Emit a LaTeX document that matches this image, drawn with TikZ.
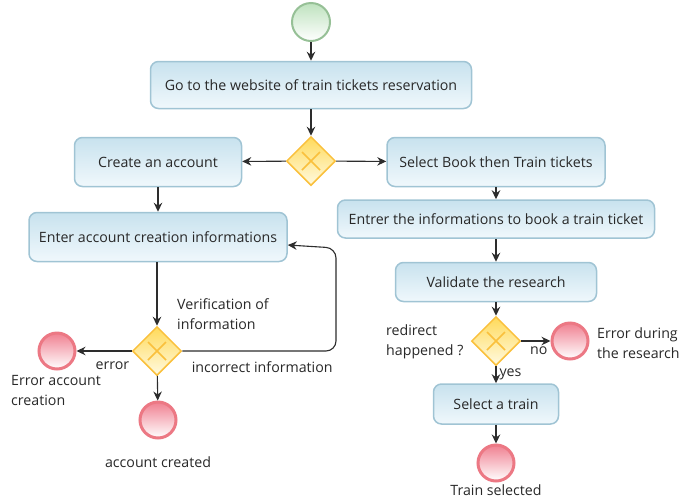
\documentclass[tikz,border=0pt]{standalone}
\usepackage{fontspec}
\setmainfont{Open Sans}
\usepackage{xcolor}
\usetikzlibrary{arrows.meta}
\usetikzlibrary{positioning, shapes.geometric}

\definecolor{taskline}{RGB}{160,196,212}
\definecolor{tasktop}{RGB}{200,226,238}
\definecolor{taskbot}{RGB}{240,248,252}
\definecolor{gateline}{RGB}{250,192,60}
\definecolor{gatetop}{RGB}{255,218,90}
\definecolor{gatebot}{RGB}{255,250,225}
\definecolor{endline}{RGB}{236,120,132}
\definecolor{endtop}{RGB}{240,128,145}
\definecolor{startline}{RGB}{150,192,150}
\definecolor{starttop}{RGB}{190,226,190}
\definecolor{flowline}{RGB}{45,45,45}
\definecolor{labeltext}{RGB}{40,40,40}

\tikzset{
    task/.style={rectangle, rounded corners=8pt, draw=taskline, line width=1.5pt,
        top color=tasktop, bottom color=taskbot, text=labeltext, inner sep=0pt},
    gateway/.style={diamond, aspect=1, minimum width=49pt, minimum height=49pt,
        inner sep=0pt, draw=gateline, line width=1.5pt, top color=gatetop, bottom color=gatebot,
        path picture={
            \draw[gateline, line width=1.5pt]
                ([shift={(-9pt,-9pt)}]path picture bounding box.center) -- ([shift={(9pt,9pt)}]path picture bounding box.center)
                ([shift={(-9pt,9pt)}]path picture bounding box.center) -- ([shift={(9pt,-9pt)}]path picture bounding box.center);
        }},
    startevent/.style={circle, minimum size=38pt, inner sep=0pt, draw=startline, line width=2pt,
        top color=starttop, bottom color=white},
    endevent/.style={circle, minimum size=36pt, inner sep=0pt, draw=endline, line width=3pt,
        top color=endtop, bottom color=white},
    flow/.style={draw=flowline, line width=1.1pt, -{Stealth[length=9pt,width=8.5pt]}},
    lbl/.style={text=labeltext, inner sep=0pt, align=left},
}

\begin{document}
\begin{tikzpicture}[x=1pt, y=-1pt, font=\fontsize{14.2}{20}\selectfont]
    \useasboundingbox (0,0) rectangle (699,499);

    % main column
    \node[startevent] (start) at (311,22) {};
    \node[task, minimum width=321pt, minimum height=47pt] (website) at (311,85)
        {Go to the website of train tickets reservation};
    \node[gateway] (choice) at (311,161) {};

    % account branch
    \node[task, minimum width=167pt, minimum height=49pt] (create) at (158,162) {Create an account};
    \node[task, minimum width=258pt, minimum height=49pt] (enter) at (158,237)
        {Enter account creation informations};
    \node[gateway] (verif) at (157,351) {};
    \node[endevent] (errAccount) at (57,351) {};
    \node[endevent] (created) at (158,420) {};

    % booking branch
    \node[task, minimum width=218pt, minimum height=49pt] (book) at (496,162)
        {Select Book then Train tickets};
    \node[task, minimum width=317pt, minimum height=38pt] (infos) at (496,219)
        {Entrer the informations to book a train ticket};
    \node[task, minimum width=201pt, minimum height=39pt] (validate) at (496,282)
        {Validate the research};
    \node[gateway] (redirect) at (496,341) {};
    \node[endevent] (errResearch) at (570,341) {};
    \node[task, minimum width=125pt, minimum height=40pt] (train) at (496,404) {Select a train};
    \node[endevent] (selected) at (496,463) {};

    % texts
    \node[lbl, anchor=north west] (verifLbl) at (177,298) {Verification of\\information};
    \node[lbl, anchor=north west] (errAccountLbl) at (11,375) {Error account\\creation};
    \node[lbl] (createdLbl) at (158,462) {account created};
    \node[lbl, anchor=north west] (redirectLbl) at (386,325) {redirect\\happened ?};
    \node[lbl, anchor=north west] (errResearchLbl) at (597,328) {Error during\\the research};
    \node[lbl] (selectedLbl) at (496,490) {Train selected};

    % flows
    \draw[flow] (start) -- (website);
    \draw[flow] (website) -- (choice);
    \draw[flow] (choice) -- (create);
    \draw[flow] (choice) -- (book);
    \draw[flow] (create) -- (enter);
    \draw[flow] (enter.south -| verif) -- (verif);
    \draw[flow] (verif) -- node[lbl, below=10pt, pos=0.35] {error} (errAccount);
    \draw[flow] (verif) -- (created);
    \draw[flow, rounded corners=10pt] (verif.east) -- node[lbl, below=10pt, pos=0.52] {incorrect information}
        (336,351) -- (336,248) -- ([yshift=-8pt]enter.east);
    \draw[flow] (book) -- (infos);
    \draw[flow] (infos) -- (validate);
    \draw[flow] (validate) -- (redirect);
    \draw[flow] (redirect) -- node[lbl, below=5pt, pos=0.6] {no} (errResearch);
    \draw[flow] (redirect) -- node[lbl, right=3pt, pos=0.45] {yes} (train);
    \draw[flow] (train) -- (selected);
\end{tikzpicture}
\end{document}
